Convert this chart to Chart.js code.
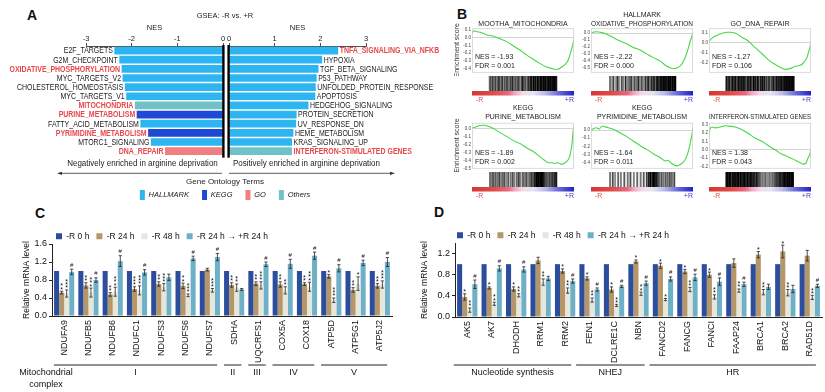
<!DOCTYPE html>
<html><head><meta charset="utf-8">
<script src="https://cdn.jsdelivr.net/npm/chart.js@4.4.0/dist/chart.umd.min.js"></script>
<style>
html,body{margin:0;padding:0;background:#fff;}
#wrap{position:relative;width:825px;height:392px;overflow:hidden;background:#fff;font-family:"Liberation Sans",Arial,sans-serif;}
.t{position:absolute;white-space:nowrap;transform:translate(-50%,-50%);line-height:1;color:#111;}
</style></head>
<body><div id="wrap">
<div class="t" style="left:32px;top:15px;font:bold 14px 'Liberation Sans',Arial,sans-serif;">A</div>
<div class="t" style="left:462px;top:14px;font:bold 14px 'Liberation Sans',Arial,sans-serif;">B</div>
<div class="t" style="left:40px;top:213px;font:bold 14px 'Liberation Sans',Arial,sans-serif;">C</div>
<div class="t" style="left:439px;top:212px;font:bold 14px 'Liberation Sans',Arial,sans-serif;">D</div>
</div>
<script>
// ---------------- Panel A data ----------------
const negTerms = ['E2F_TARGETS','G2M_CHECKPOINT','OXIDATIVE_PHOSPHORYLATION','MYC_TARGETS_V2','CHOLESTEROL_HOMEOSTASIS','MYC_TARGETS_V1','MITOCHONDRIA','PURINE_METABOLISM','FATTY_ACID_METABOLISM','PYRIMIDINE_METABOLISM','MTORC1_SIGNALING','DNA_REPAIR'];
const negNES = [-2.38,-2.27,-2.22,-2.20,-2.15,-2.12,-1.93,-1.89,-1.81,-1.64,-1.58,-1.27];
const negSource = ['HALLMARK','HALLMARK','HALLMARK','HALLMARK','HALLMARK','HALLMARK','Others','KEGG','HALLMARK','KEGG','HALLMARK','GO'];
const negHighlight = [false,false,true,false,false,false,true,true,false,true,false,true];
const posTerms = ['TNFA_SIGNALING_VIA_NFKB','HYPOXIA','TGF_BETA_SIGNALING','P53_PATHWAY','UNFOLDED_PROTEIN_RESPONSE','APOPTOSIS','HEDGEHOG_SIGNALING','PROTEIN_SECRETION','UV_RESPONSE_DN','HEME_METABOLISM','KRAS_SIGNALING_UP','INTERFERON-STIMULATED GENES'];
const posNES = [2.39,2.04,1.96,1.92,1.90,1.89,1.74,1.48,1.47,1.41,1.38,1.38];
const posSource = ['HALLMARK','HALLMARK','HALLMARK','HALLMARK','HALLMARK','HALLMARK','HALLMARK','HALLMARK','HALLMARK','HALLMARK','HALLMARK','Others'];
const posHighlight = [true,false,false,false,false,false,false,false,false,false,false,true];
const sourceNames = ['HALLMARK','KEGG','GO','Others'];
const sourceColors = ['#2db5f1','#1d49d6','#f07f7f','#6fc3c8'];

// ---------------- Panel B data ----------------
const gseaTitles = [['','MOOTHA_MITOCHONDRIA'],['HALLMARK','OXIDATIVE_PHOSPHORYLATION'],['','GO_DNA_REPAIR'],['KEGG','PURINE_METABOLISM'],['KEGG','PYRIMIDINE_METABOLISM'],['','INTERFERON-STIMULATED GENES']];
const gseaNES = ['-1.93','-2.22','-1.27','-1.89','-1.64','1.38'];
const gseaFDR = ['0.001','0.000','0.106','0.002','0.011','0.043'];
const esX1 = [0,2,5,9,14,21,27,34,40,47,53,60,66,73,78,81,84,88,91,94,97,99,100];
const esY1 = [0.06,0.09,0.08,0.07,0.04,0.02,-0.01,-0.05,-0.10,-0.16,-0.22,-0.28,-0.33,-0.38,-0.40,-0.41,-0.41,-0.38,-0.35,-0.30,-0.18,-0.08,-0.01];
const esX2 = [0,1,6,10,15,22,28,35,41,48,55,61,68,73,78,81,84,88,91,94,97,100];
const esY2 = [0.0,0.01,0.02,0.01,-0.01,-0.065,-0.11,-0.15,-0.20,-0.24,-0.30,-0.35,-0.40,-0.46,-0.50,-0.51,-0.50,-0.46,-0.39,-0.28,-0.13,0.01];
const esX3 = [0,3,8,13,18,21,26,32,39,45,52,58,65,70,75,80,84,89,92,96,98,100];
const esY3 = [0.015,0.05,0.08,0.10,0.11,0.11,0.10,0.06,0.015,-0.045,-0.11,-0.17,-0.22,-0.25,-0.27,-0.26,-0.24,-0.23,-0.21,-0.15,-0.08,0.0];
const esX4 = [0,3,6,9,12,15,21,27,34,40,47,53,60,66,71,75,78,81,84,88,91,94,96,98,99,100];
const esY4 = [0.01,0.015,0.03,0.04,0.04,0.03,0.0,-0.05,-0.10,-0.15,-0.19,-0.24,-0.29,-0.35,-0.40,-0.43,-0.43,-0.44,-0.43,-0.45,-0.43,-0.40,-0.34,-0.20,-0.05,0.02];
const esX5 = [0,2,5,8,11,14,17,22,28,35,41,48,55,61,68,73,75,79,84,88,92,95,97,99,100];
const esY5 = [0.0,0.015,0.03,0.015,0.05,0.04,0.03,0.01,-0.03,-0.08,-0.13,-0.19,-0.24,-0.29,-0.34,-0.38,-0.37,-0.41,-0.44,-0.42,-0.37,-0.28,-0.18,-0.05,0.03];
const esX6 = [0,1,3,6,11,16,19,26,32,39,45,52,58,65,71,78,84,89,92,95,97,99,100];
const esY6 = [0.14,0.25,0.27,0.26,0.27,0.285,0.28,0.27,0.24,0.19,0.14,0.10,0.05,0.0,-0.05,-0.085,-0.12,-0.15,-0.17,-0.16,-0.10,-0.05,0.01];
const hitPos1 = [1,2.5,4,5.5,7,8.5,10,12,13.5,15,17,18.5,20,22,23.5,25,27,28.5,30,32,34,35.5,37,39,41,43,45,47,48.5,50,52,54,56,58,60,61.5,63,64.5,66,67.5,69,70.5,72,73.5,75,76.5,78,79.5,81,82.5,84,85.5,87,88.5,90,91.5,93,94.5,96,97.5,99];
const hitShade1 = [0.55,0.75,0.5,0.8,0.6,0.55,0.75,0.5,0.65,0.85,0.5,0.6,0.8,0.45,0.7,0.55,0.85,0.6,0.5,0.75,0.65,0.9,0.5,0.7,0.55,0.8,0.6,0.45,0.75,0.9,0.6,0.7,0.5,0.85,0.65,0.9,0.95,0.7,1,0.85,0.95,0.75,1,0.9,0.8,1,0.95,0.85,1,0.9,1,0.8,0.95,1,0.9,1,0.85,1,0.95,1,0.9];
const hitPos2 = [3,5.5,8,12,14.5,17,20.5,22.5,26,28.5,31,34,36.5,39,41.5,44.5,47,50,52,55,57.5,59.5,61.5,64,66,68,70,72,74,75.5,77.5,79.5,81,82.5,84.5,86,87.5,89,91,92.5,94,95.5,97.5,99];
const hitShade2 = [0.6,0.35,0.75,0.5,0.8,0.4,0.7,0.5,0.85,0.45,0.6,0.8,0.4,0.7,0.55,0.85,0.5,0.75,0.45,0.8,0.6,0.9,0.55,0.85,0.7,0.95,0.6,0.9,1,0.75,0.95,1,0.85,1,0.9,1,0.8,1,0.95,1,0.85,1,0.95,1];
const hitPos3 = [0.5,2,3,5,6.5,7.5,9.5,11,12,14,15.5,16.5,18.5,20,21,23,24.5,25.5,27.5,29,30,32,33.5,34.5,36.5,38,39,41,42.5,43.5,45.5,47,48,50,51.5,52.5,54.5,56,57,59,60.5,61.5,63.5,65,66,68,69.5,70.5,72.5,74,75,77,78.5,79.5,81.5,83,84,86,87.5,88.5,90.5,92,93,95,96.5,97.5,99.5];
const hitShade3 = [0.8,1,0.7,0.95,0.85,0.6,1,0.9,0.75,1,0.85,0.65,1,0.9,0.8,1,0.7,0.95,0.85,1,0.6,0.9,1,0.75,0.95,0.85,0.65,1,0.8,0.9,0.7,1,0.85,0.6,0.95,0.8,1,0.7,0.9,0.65,0.85,0.6,0.9,0.75,0.55,0.85,0.7,0.9,0.65,0.8,0.95,0.75,1,0.85,0.9,1,0.8,1,0.9,0.95,1,0.85,1,0.95,0.9,1,0.95];
const hitPos4 = [1.5,4,6,8.5,10,13,15.5,18,20.5,23,26,28.5,32,35,37.5,41,44,46.5,50,53,55.5,59,62,64.5,67,68.5,70.5,72,73.5,75,76.5,78,79.5,81,83,85.5,87,89.5,91,93,95.5,97,99];
const hitShade4 = [0.6,0.5,0.7,0.45,0.65,0.55,0.75,0.5,0.6,0.7,0.45,0.65,0.55,0.7,0.5,0.6,0.75,0.5,0.65,0.55,0.7,0.6,0.8,0.65,0.9,0.85,1,0.95,1,0.9,1,1,0.95,0.9,0.7,0.8,0.6,0.75,0.65,0.8,0.7,0.85,0.9];
const hitPos5 = [3,7,10.5,15,19,24,29,33,38,43,48,52.5,57,60,62.5,65,67,69,71,73.5,76,79,82,85,88,91,94,97.5];
const hitShade5 = [0.55,0.7,0.45,0.6,0.5,0.65,0.55,0.7,0.5,0.6,0.55,0.65,0.75,0.9,1,0.85,1,0.95,0.9,0.8,0.6,0.7,0.55,0.65,0.6,0.7,0.6,0.75];
const hitPos6 = [0.5,2,4,5.5,7,9,10.5,12,14,15.5,17,19,20.5,22,24,25.5,27,29,30.5,32,34,35.5,37,39,40.5,42,44,45.5,47,49,51,53.5,56,58.5,61,63.5,66,68.5,71,73,75,77,79,80.5,82,84,85.5,87,89,90.5,92,94,95.5,97,98.5];
const hitShade6 = [0.9,1,0.85,1,0.95,0.8,1,0.9,1,0.85,0.95,1,0.8,1,0.9,0.85,1,0.9,0.8,1,0.9,0.85,1,0.8,0.9,0.85,0.75,0.9,0.8,0.7,0.6,0.55,0.5,0.6,0.45,0.55,0.5,0.6,0.65,0.7,0.8,0.75,0.85,0.9,0.8,0.95,0.9,1,0.85,1,0.95,1,0.9,1,1];

// ---------------- Panel C / D data ----------------
const seriesNames = ['-R 0 h','-R 24 h','-R 48 h','-R 24 h \u2192 +R 24 h'];
const seriesColors = ['#2c4d9b','#b49668','#e7e6dc','#6eb0c8'];
const cGenes = ['NDUFA9','NDUFB5','NDUFB6','NDUFC1','NDUFS3','NDUFS6','NDUFS7','SDHA','UQCRFS1','COX5A','COX18','ATP5D','ATP5G1','ATP5J2'];
const c0h  = [1,1,1,1,1,1,1,1,1,1,1,1,1,1];
const c24h = [0.52,0.68,0.48,0.60,0.71,0.67,1.03,0.69,0.72,0.70,0.71,0.88,0.58,0.67];
const c48h = [0.50,0.52,0.54,0.57,0.64,0.46,0.57,0.63,0.68,0.57,0.65,0.35,0.72,0.70];
const cRec = [0.98,0.80,1.22,0.97,0.86,1.28,1.31,0.59,1.15,1.16,1.34,1.06,1.18,1.20];
const c24hErr = [0.03,0.06,0.04,0.05,0.05,0.06,0.03,0.05,0.04,0.06,0.03,0.04,0.05,0.05];
const c48hErr = [0.08,0.10,0.10,0.10,0.08,0.03,0.04,0.08,0.08,0.08,0.10,0.05,0.15,0.08];
const cRecErr = [0.06,0.05,0.12,0.06,0.07,0.05,0.08,0.02,0.05,0.10,0.08,0.08,0.06,0.10];
const c24hSig = ['**','**','**','***','**','**','','**','**','**','**','*','**','**'];
const c48hSig = ['***','***','***','***','***','***','***','**','***','**','***','***','*','***'];
const cRecSig = ['#','#','#','#','','#','#','','#','#','#','#','#','#'];
const cGroupNames = ['I','II','III','IV','V'];
const cGroupStart = [0,7,8,9,11];
const cGroupEnd = [6,7,8,10,13];

const dGenes = ['AK5','AK7','DHODH','RRM1','RRM2','FEN1','DCLRE1C','NBN','FANCD2','FANCG','FANCI','FAAP24','BRCA1','BRCA2','RAD51D'];
const d0h  = [1,1,1,1,1,1,1,1,1,1,1,1,1,1,1];
const d24h = [0.38,0.55,0.53,1.07,0.87,0.73,0.52,1.05,0.97,0.86,0.80,1.02,1.18,1.24,1.16];
const d48h = [0.13,0.25,0.41,0.66,0.50,0.32,0.22,0.44,0.33,0.52,0.38,0.50,0.47,0.46,0.37];
const dRec = [0.62,0.92,0.90,0.73,0.68,0.52,0.58,0.64,0.72,0.75,0.67,0.62,0.57,0.53,0.59];
const d24hErr = [0.06,0.02,0.04,0.06,0.04,0.03,0.05,0.03,0.05,0.04,0.05,0.08,0.06,0.12,0.10];
const d48hErr = [0.04,0.03,0.03,0.06,0.05,0.04,0.02,0.03,0.02,0.04,0.04,0.03,0.05,0.06,0.04];
const dRecErr = [0.08,0.05,0.05,0.04,0.04,0.03,0.02,0.04,0.04,0.06,0.07,0.04,0.05,0.07,0.03];
const d24hSig = ['*','*','*','','*','*','*','*','*','*','*','','*','*',''];
const d48hSig = ['**','**','**','**','**','**','**','**','*','**','**','**','**','**','**'];
const dRecSig = ['#','#','#','','#','#','#','#','#','#','#','#','','','#'];
const dGroupNames = ['Nucleotide synthesis','NHEJ','HR'];
const dGroupStart = [0,5,8];
const dGroupEnd = [4,7,14];

// ---------------- setup ----------------
const FF = '"Liberation Sans", Arial, Helvetica, sans-serif';
Chart.defaults.font.family = FF;
Chart.defaults.color = '#222';
Chart.defaults.animation = false;
Chart.defaults.responsive = false;
Chart.defaults.devicePixelRatio = 1;
Chart.defaults.plugins.tooltip.enabled = false;
Chart.defaults.plugins.legend.display = false;

function mkCanvas(left, top, w, h) {
  const c = document.createElement('canvas');
  c.width = w; c.height = h;
  c.style.cssText = 'position:absolute;left:' + left + 'px;top:' + top + 'px;width:' + w + 'px;height:' + h + 'px;';
  document.getElementById('wrap').appendChild(c);
  return c;
}

// ---------------- Panel A ----------------
const nesLabelPlugin = {
  id: 'nesLabels',
  afterDatasetsDraw(chart, args, o) {
    const ctx = chart.ctx;
    chart.data.datasets.forEach((ds, di) => {
      const meta = chart.getDatasetMeta(di);
      meta.data.forEach((el, i) => {
        if (ds.data[i] == null) return;
        ctx.save();
        ctx.font = (o.highlight[i] ? 'bold ' : '') + '8.5px ' + FF;
        ctx.fillStyle = o.highlight[i] ? '#e8474b' : '#1a1a1a';
        ctx.textBaseline = 'middle';
        ctx.textAlign = o.side === 'left' ? 'right' : 'left';
        ctx.translate(o.side === 'left' ? el.x - 1.5 : el.x + 1.5, el.y + 0.5);
        ctx.scale(0.82, 1);
        ctx.fillText(o.terms[i], 0, 0);
        ctx.restore();
      });
    });
    const xs = chart.scales.x;
    const x0 = xs.getPixelForValue(0) + (o.side === 'left' ? 0.4 : -0.4);
    ctx.save();
    ctx.strokeStyle = '#000'; ctx.lineWidth = 2.4;
    ctx.beginPath(); ctx.moveTo(x0, chart.chartArea.top - 1); ctx.lineTo(x0, chart.chartArea.bottom + 2); ctx.stroke();
    ctx.restore();
  }
};
const annotPlugin = {
  id: 'annot',
  afterDraw(chart) {
    const ctx = chart.ctx;
    ctx.save();
    ctx.fillStyle = '#222'; ctx.textBaseline = 'middle'; ctx.textAlign = 'center';
    ctx.font = '8.5px ' + FF;
    [['Negatively enriched in arginine deprivation', 142.5], ['Positively enriched in arginine deprivation', 306.5]].forEach(t => {
      ctx.save(); ctx.translate(t[1], 164); ctx.scale(0.94, 1); ctx.fillText(t[0], 0, 0); ctx.restore();
    });
    ctx.strokeStyle = '#333'; ctx.lineWidth = 0.8;
    const y = 173.3;
    ctx.beginPath(); ctx.moveTo(222, y); ctx.lineTo(60, y); ctx.moveTo(229, y); ctx.lineTo(392, y); ctx.stroke();
    ctx.fillStyle = '#333';
    ctx.beginPath(); ctx.moveTo(57, y); ctx.lineTo(62, y - 1.6); ctx.lineTo(62, y + 1.6); ctx.closePath(); ctx.fill();
    ctx.beginPath(); ctx.moveTo(395, y); ctx.lineTo(390, y - 1.6); ctx.lineTo(390, y + 1.6); ctx.closePath(); ctx.fill();
    ctx.restore();
  }
};
function nesDatasets(values, sources) {
  return sourceNames.map((s, k) => ({
    label: s,
    data: values.map((v, i) => sources[i] === s ? v : null),
    backgroundColor: sourceColors[k],
    borderWidth: 0,
    grouped: false,
    categoryPercentage: 0.84,
    barPercentage: 1
  }));
}
function nesXAxis(min, max) {
  return {
    position: 'top', min: min, max: max,
    ticks: {stepSize: 1, font: {size: 7.5}, color: '#222', padding: 0},
    grid: {drawOnChartArea: false, drawTicks: true, tickLength: 3, color: '#222', lineWidth: 0.8},
    border: {color: '#222', width: 0.8},
    title: {display: true, text: 'NES', font: {size: 7.5}, color: '#222', padding: {top: 3, bottom: 0}},
    afterFit: s => { s.height = 25.5; }
  };
}
const hiddenAxis = (pos, w) => ({
  type: 'category', position: pos, display: true,
  ticks: {display: false}, grid: {display: false, drawTicks: false}, border: {display: false},
  afterFit: s => { s.width = w; }
});

const chartAL = new Chart(mkCanvas(0, 0, 450, 210), {
  type: 'bar',
  data: {labels: negTerms, datasets: nesDatasets(negNES, negSource)},
  options: {
    indexAxis: 'y',
    layout: {padding: {top: 11.5, bottom: 0, left: 0, right: 0}},
    scales: {x: nesXAxis(-3, 0), y: hiddenAxis('left', 86), yr: hiddenAxis('right', 227)},
    plugins: {
      title: {display: true, text: 'GSEA: -R vs. +R', font: {size: 7.5, weight: 'normal'}, color: '#222', padding: {top: 0, bottom: 0}},
      legend: {display: true, position: 'bottom',
        labels: {boxWidth: 5, boxHeight: 10, padding: 13, font: {size: 7.5, style: 'italic'}, color: '#222'},
        title: {display: true, text: 'Gene Ontology Terms', font: {size: 8}, color: '#222', padding: {top: 22.5, bottom: -10.8}}},
      nesLabels: {terms: negTerms, highlight: negHighlight, side: 'left'}
    }
  },
  plugins: [nesLabelPlugin, annotPlugin]
});
const aBottomPad = 210 - chartAL.chartArea.bottom;
new Chart(mkCanvas(226, 0, 224, 210), {
  type: 'bar',
  data: {labels: posTerms, datasets: nesDatasets(posNES, posSource)},
  options: {
    indexAxis: 'y',
    layout: {padding: {top: 20.5, bottom: aBottomPad, left: 0, right: 0}},
    scales: {x: nesXAxis(0, 3), y: hiddenAxis('left', 3), yr: hiddenAxis('right', 84)},
    plugins: {nesLabels: {terms: posTerms, highlight: posHighlight, side: 'right'}}
  },
  plugins: [nesLabelPlugin]
});

// ---------------- Panel B ----------------
const gseaBoxPlugin = {
  id: 'gseaBox',
  afterDraw(chart, args, o) {
    const {left, top, right, bottom} = chart.chartArea;
    const ctx = chart.ctx;
    ctx.save();
    ctx.strokeStyle = '#d2d2d2'; ctx.lineWidth = 0.8;
    ctx.strokeRect(left + 0.4, top + 0.4, right - left - 0.8, bottom - top - 0.4);
    ctx.fillStyle = '#222'; ctx.font = '7px ' + FF; ctx.textBaseline = 'middle'; ctx.textAlign = 'left';
    ctx.fillText('NES = ' + o.nes, left + 3, bottom - 15);
    ctx.fillText('FDR = ' + o.fdr, left + 3, bottom - 6.5);
    ctx.restore();
  }
};
const gradPlugin = {
  id: 'gseaGrad',
  afterDraw(chart) {
    const {left, right, bottom} = chart.chartArea;
    const ctx = chart.ctx;
    ctx.save();
    const g = ctx.createLinearGradient(left, 0, right, 0);
    g.addColorStop(0, '#d93535'); g.addColorStop(0.2, '#e04848'); g.addColorStop(0.36, '#e86a7a');
    g.addColorStop(0.42, '#f0a8c4'); g.addColorStop(0.5, '#f3dbe9'); g.addColorStop(0.6, '#e6e4f4');
    g.addColorStop(0.72, '#b9b9ec'); g.addColorStop(0.84, '#6f6fdc'); g.addColorStop(1, '#2222c0');
    ctx.fillStyle = g; ctx.fillRect(left, bottom, right - left, 4.5);
    ctx.font = '7px ' + FF; ctx.textBaseline = 'middle';
    ctx.fillStyle = '#e05555'; ctx.textAlign = 'left'; ctx.fillText('-R', left + 4, bottom + 9.5);
    ctx.fillStyle = '#4545cc'; ctx.textAlign = 'right'; ctx.fillText('+R', right, bottom + 9.5);
    ctx.restore();
  }
};
const esXs = [esX1, esX2, esX3, esX4, esX5, esX6];
const esYs = [esY1, esY2, esY3, esY4, esY5, esY6];
const hitPs = [hitPos1, hitPos2, hitPos3, hitPos4, hitPos5, hitPos6];
const hitSs = [hitShade1, hitShade2, hitShade3, hitShade4, hitShade5, hitShade6];
const esMin = [-0.45, -0.56, -0.30, -0.50, -0.47, -0.22];
const esMax = [0.124, 0.07, 0.15, 0.07, 0.09, 0.32];
const boxLeft = [472, 591, 709];
const boxW = 102;
const rowCanvasTop = [8, 101];
const rowAreaBottom = [76, 172];
const fmt1 = v => { const r = Math.round(v * 10) / 10; return (Math.abs(r) < 1e-9 ? 0 : r).toFixed(1); };

for (let p = 0; p < 6; p++) {
  const row = Math.floor(p / 3), col = p % 3;
  const yW = col === 0 ? 22 : 16;
  const cl = boxLeft[col] - yW;
  const ct = rowCanvasTop[row];
  new Chart(mkCanvas(cl, ct, yW + boxW + 2, rowAreaBottom[row] - ct), {
    type: 'line',
    data: {datasets: [{
      data: esXs[p].map((x, i) => ({x: x, y: esYs[p][i]})),
      borderColor: '#45d845', borderWidth: 1.1, pointRadius: 0, fill: false, cubicInterpolationMode: 'monotone'
    }]},
    options: {
      layout: {padding: {left: 0, right: 2, top: 0, bottom: 0}},
      scales: {
        x: {type: 'linear', min: 0, max: 100, display: false},
        y: {min: esMin[p], max: esMax[p],
          ticks: {stepSize: 0.1, includeBounds: false, font: {size: 4.5}, color: '#444', padding: 1, callback: fmt1},
          grid: {color: c => (Math.abs(c.tick.value) < 1e-9 ? '#c8c8c8' : 'rgba(0,0,0,0)'), drawTicks: false, lineWidth: 0.8},
          border: {display: false},
          title: {display: col === 0, text: 'Enrichment score', font: {size: 7}, color: '#333', padding: {top: 2.8, bottom: 0}},
          afterFit: s => { s.width = yW; }
        }
      },
      plugins: {
        title: {display: true, text: gseaTitles[p], font: {size: 7, weight: 'normal', lineHeight: 1.2}, color: '#222', fullSize: false, padding: {top: 3, bottom: row ? 2 : 0.5}},
        gseaBox: {nes: gseaNES[p], fdr: gseaFDR[p]}
      }
    },
    plugins: [gseaBoxPlugin]
  });
  const bt = rowAreaBottom[row];
  new Chart(mkCanvas(boxLeft[col] - 2, bt, boxW + 4, 30), {
    type: 'bar',
    data: {datasets: [{
      data: hitPs[p].map(x => ({x: x, y: 1})),
      backgroundColor: hitSs[p].map(s => { const g = Math.round(255 * (1 - (s == null ? 0.7 : s))); return 'rgb(' + g + ',' + g + ',' + g + ')'; }),
      barThickness: 1.2, borderWidth: 0
    }]},
    options: {
      layout: {padding: {left: 2, right: 2, top: 0, bottom: 15}},
      scales: {x: {type: 'linear', min: 0, max: 100, display: false}, y: {min: 0, max: 1, display: false}}
    },
    plugins: [gradPlugin]
  });
}

// ---------------- Panels C / D ----------------
const errSigPlugin = {
  id: 'errSig',
  afterDatasetsDraw(chart) {
    const ctx = chart.ctx, ys = chart.scales.y;
    chart.data.datasets.forEach((ds, di) => {
      if (!ds.errors) return;
      const meta = chart.getDatasetMeta(di);
      meta.data.forEach((el, i) => {
        const v = ds.data[i], e = ds.errors[i] || 0, x = el.x;
        const yt = ys.getPixelForValue(v + e), yb = ys.getPixelForValue(v - e);
        ctx.save();
        ctx.strokeStyle = '#222'; ctx.lineWidth = 0.8;
        if (e > 0) {
          ctx.beginPath();
          ctx.moveTo(x, yt); ctx.lineTo(x, yb);
          ctx.moveTo(x - 1.6, yt); ctx.lineTo(x + 1.6, yt);
          ctx.moveTo(x - 1.6, yb); ctx.lineTo(x + 1.6, yb);
          ctx.stroke();
        }
        const s = ds.sig ? ds.sig[i] : '';
        if (s) {
          ctx.fillStyle = '#111'; ctx.textAlign = 'center'; ctx.textBaseline = 'middle';
          if (s === '#') { ctx.font = '6px ' + FF; ctx.fillText('#', x, yt - 4); }
          else { ctx.font = '7px ' + FF; for (let k = 0; k < s.length; k++) ctx.fillText('*', x, yt - 1.5 - k * 3.2); }
        }
        ctx.restore();
      });
    });
  }
};
const groupPlugin = {
  id: 'groups',
  afterDraw(chart, args, o) {
    const xs = chart.scales.x, ctx = chart.ctx, b = chart.chartArea.bottom;
    const pitch = xs.getPixelForValue(1) - xs.getPixelForValue(0);
    ctx.save();
    ctx.strokeStyle = '#222'; ctx.lineWidth = 1; ctx.fillStyle = '#111';
    ctx.font = '9px ' + FF; ctx.textAlign = 'center'; ctx.textBaseline = 'middle';
    o.names.forEach((n, g) => {
      const x0 = xs.getPixelForValue(o.start[g]) - pitch * o.l;
      const x1 = xs.getPixelForValue(o.end[g]) + pitch * o.r;
      ctx.beginPath(); ctx.moveTo(x0, b + o.lineY); ctx.lineTo(x1, b + o.lineY); ctx.stroke();
      ctx.fillText(n, (x0 + x1) / 2, b + o.lineY + 8);
    });
    if (o.side) o.side.forEach((t, k) => ctx.fillText(t, o.sideX, b + o.lineY + 8 + k * 12));
    ctx.restore();
  }
};
const legendShiftPlugin = {
  id: 'legendShift',
  afterLayout(chart, args, o) {
    if (chart.legend && o.shift) { chart.legend.left += o.shift; chart.legend.right += o.shift; }
  }
};
function barPanel(canvas, cfg) {
  return new Chart(canvas, {
    type: 'bar',
    data: {labels: cfg.genes, datasets: seriesNames.map((n, k) => ({
      label: n, data: cfg.values[k], backgroundColor: seriesColors[k], borderWidth: 0,
      categoryPercentage: cfg.catPct, barPercentage: 1, errors: cfg.errors[k], sig: cfg.sig[k]
    }))},
    options: {
      layout: {padding: {left: 0, right: cfg.padRight, top: 0, bottom: cfg.padBottom}},
      scales: {
        x: {grid: {display: false, drawTicks: false}, border: {display: true, color: '#222', width: 1},
          ticks: {autoSkip: false, maxRotation: 90, minRotation: 90, font: {size: 9}, color: '#111', padding: 4},
          afterFit: s => { s.height = 48; }},
        y: {min: 0, max: cfg.ymax,
          ticks: {stepSize: 0.2, font: {size: 9}, color: '#111', padding: 2, callback: v => v.toFixed(1)},
          grid: {drawOnChartArea: false, tickLength: 3, color: '#222'},
          border: {color: '#222', width: 1},
          title: {display: true, text: 'Relative mRNA level', font: {size: 8.5}, color: '#111', padding: {top: cfg.titlePad, bottom: 0}},
          afterFit: s => { s.width = cfg.yWidth; }}
      },
      plugins: {
        legend: {display: true, position: 'top', align: 'start', fullSize: false, maxHeight: 19,
          labels: {boxWidth: 6, boxHeight: 6, padding: 7, font: {size: 8.5}, color: '#111'}},
        groups: cfg.groups,
        legendShift: {shift: cfg.legendShift}
      }
    },
    plugins: [errSigPlugin, groupPlugin, legendShiftPlugin]
  });
}
barPanel(mkCanvas(0, 225, 400, 167), {
  genes: cGenes, values: [c0h, c24h, c48h, cRec], errors: [null, c24hErr, c48hErr, cRecErr], sig: [null, c24hSig, c48hSig, cRecSig],
  catPct: 0.83, padRight: 8, padBottom: 28, ymax: 1.6, titlePad: 21.9, yWidth: 52, legendShift: -3,
  groups: {names: cGroupNames, start: cGroupStart, end: cGroupEnd, l: 0.42, r: 0.3, lineY: 49, side: ['Mitochondrial', 'complex'], sideX: 46}
});
barPanel(mkCanvas(400, 224, 425, 168), {
  genes: dGenes, values: [d0h, d24h, d48h, dRec], errors: [null, d24hErr, d48hErr, dRecErr], sig: [null, d24hSig, d48hSig, dRecSig],
  catPct: 0.83, padRight: 3, padBottom: 27, ymax: 1.4, titlePad: 19.9, yWidth: 55, legendShift: -5,
  groups: {names: dGroupNames, start: dGroupStart, end: dGroupEnd, l: 0.55, r: 0.25, lineY: 48}
});
</script>
</body></html>
